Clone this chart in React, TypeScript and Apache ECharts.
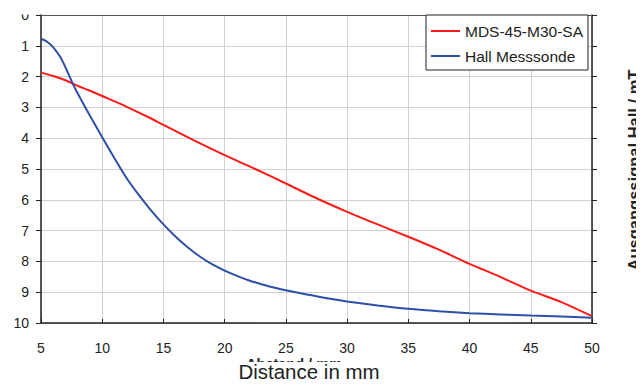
import React, { useEffect, useRef } from "react";
import * as echarts from "echarts";

const redName = "MDS-45-M30-SA";
const blueName = "Hall Messsonde";

const redX = [5, 6, 7, 8, 9, 10, 12, 14, 15, 17.5, 20, 22.5, 25, 27.5, 30, 32.5, 35, 37.5, 40, 42.5, 45, 47.5, 50];
const redY = [1.87, 1.98, 2.12, 2.3, 2.46, 2.63, 2.98, 3.36, 3.57, 4.07, 4.55, 5.0, 5.47, 5.95, 6.39, 6.8, 7.2, 7.62, 8.08, 8.5, 8.95, 9.32, 9.78];

const blueX = [5.06, 5.5, 6, 6.55, 7, 7.64, 8, 9, 10, 11, 12, 13, 14, 15, 16, 17, 18, 19, 20, 21, 22, 23, 24, 25, 26, 27, 28, 29, 30, 32.5, 35, 37.5, 40, 42.5, 45, 47.5, 50];
const blueY = [0.78, 0.87, 1.05, 1.35, 1.7, 2.27, 2.55, 3.27, 3.97, 4.65, 5.3, 5.85, 6.35, 6.8, 7.2, 7.55, 7.85, 8.1, 8.3, 8.47, 8.62, 8.74, 8.85, 8.94, 9.02, 9.09, 9.17, 9.24, 9.3, 9.43, 9.54, 9.62, 9.68, 9.72, 9.76, 9.79, 9.83];

const FONT = "'Liberation Sans', Arial, sans-serif";

export default function App() {
  const ref = useRef<HTMLDivElement>(null);
  useEffect(() => {
    if (!ref.current) return;
    const chart = echarts.init(ref.current, undefined, { renderer: "svg" });
    chart.setOption({
      animation: false,
      backgroundColor: "#fff",
      textStyle: { fontFamily: FONT },
      grid: { left: 41, right: 52, top: 15, bottom: 62, containLabel: false },
      legend: {
        left: 426,
        top: 15,
        orient: "vertical",
        icon: "rect",
        itemWidth: 29,
        itemHeight: 2,
        itemGap: 9,
        padding: [8, 5, 6, 5],
        borderColor: "#222",
        borderWidth: 1,
        borderRadius: 0,
        backgroundColor: "#fff",
        textStyle: { fontSize: 15.5, color: "#222", fontFamily: FONT },
        data: [redName, blueName],
      },
      xAxis: [
        {
          type: "value",
          min: 5,
          max: 50,
          interval: 5,
          axisLine: { show: true, onZero: false, lineStyle: { color: "#222", width: 1.5 } },
          axisTick: { show: true, inside: true, length: 4, lineStyle: { color: "#222" } },
          axisLabel: { fontSize: 14, color: "#222", margin: 18, fontFamily: FONT },
          splitLine: { show: true, lineStyle: { color: "#d0d0d0", width: 1 } },
        },
        {
          type: "value",
          position: "top",
          min: 5,
          max: 50,
          interval: 5,
          axisLine: { show: true, onZero: false, lineStyle: { color: "#555", width: 1 } },
          axisTick: { show: false },
          axisLabel: { show: false },
          splitLine: { show: false },
        },
      ],
      yAxis: [
        {
          type: "value",
          inverse: true,
          min: 0,
          max: 10,
          interval: 1,
          axisLine: { show: true, onZero: false, lineStyle: { color: "#222", width: 1.5 } },
          axisTick: { show: true, inside: false, length: 5, lineStyle: { color: "#222" } },
          axisLabel: { fontSize: 14, color: "#222", margin: 12, fontFamily: FONT },
          splitLine: { show: true, lineStyle: { color: "#d0d0d0", width: 1 } },
        },
        {
          type: "value",
          inverse: true,
          position: "right",
          min: 0,
          max: 10,
          interval: 1,
          axisLine: { show: true, onZero: false, lineStyle: { color: "#222", width: 1.5 } },
          axisTick: { show: true, inside: false, length: 5, lineStyle: { color: "#222" } },
          axisLabel: { show: false },
          splitLine: { show: false },
        },
      ],
      series: [
        {
          name: redName,
          type: "line",
          showSymbol: false,
          symbol: "none",
          smooth: 0.3,
          lineStyle: { color: "#ff1a1a", width: 2 },
          itemStyle: { color: "#ff1a1a" },
          data: redX.map((x, i) => [x, redY[i]]),
          z: 3,
        },
        {
          name: blueName,
          type: "line",
          showSymbol: false,
          symbol: "none",
          smooth: 0.3,
          lineStyle: { color: "#2e4fa8", width: 2 },
          itemStyle: { color: "#2e4fa8" },
          data: blueX.map((x, i) => [x, blueY[i]]),
          z: 4,
        },
      ],
      graphic: [
        { type: "rect", z: 100, shape: { x: 0, y: 0, width: 38, height: 14.5 }, style: { fill: "#fff" } },
        {
          type: "text",
          z: 99,
          x: 294,
          y: 356,
          style: {
            text: "Abstand / mm",
            fontSize: 14.5,
            fontWeight: "bold",
            fontFamily: FONT,
            fill: "#222",
            align: "center",
            verticalAlign: "top",
          },
        },
        { type: "rect", z: 100, shape: { x: 225, y: 362, width: 175, height: 23 }, style: { fill: "#fff" } },
        {
          type: "text",
          z: 101,
          x: 309,
          y: 361,
          style: {
            text: "Distance in mm",
            fontSize: 20.5,
            fontFamily: FONT,
            fill: "#222",
            align: "center",
            verticalAlign: "top",
          },
        },
        {
          type: "text",
          z: 101,
          x: 634,
          y: 170,
          rotation: Math.PI / 2,
          style: {
            text: "Ausgangssignal Hall / mT",
            fontSize: 16.5,
            fontWeight: "bold",
            fontFamily: FONT,
            fill: "#222",
            align: "center",
            verticalAlign: "middle",
          },
        },
      ],
    });
    return () => chart.dispose();
  }, []);
  return <div ref={ref} style={{ width: 644, height: 385, marginLeft: -8, marginTop: -8 }} />;
}
